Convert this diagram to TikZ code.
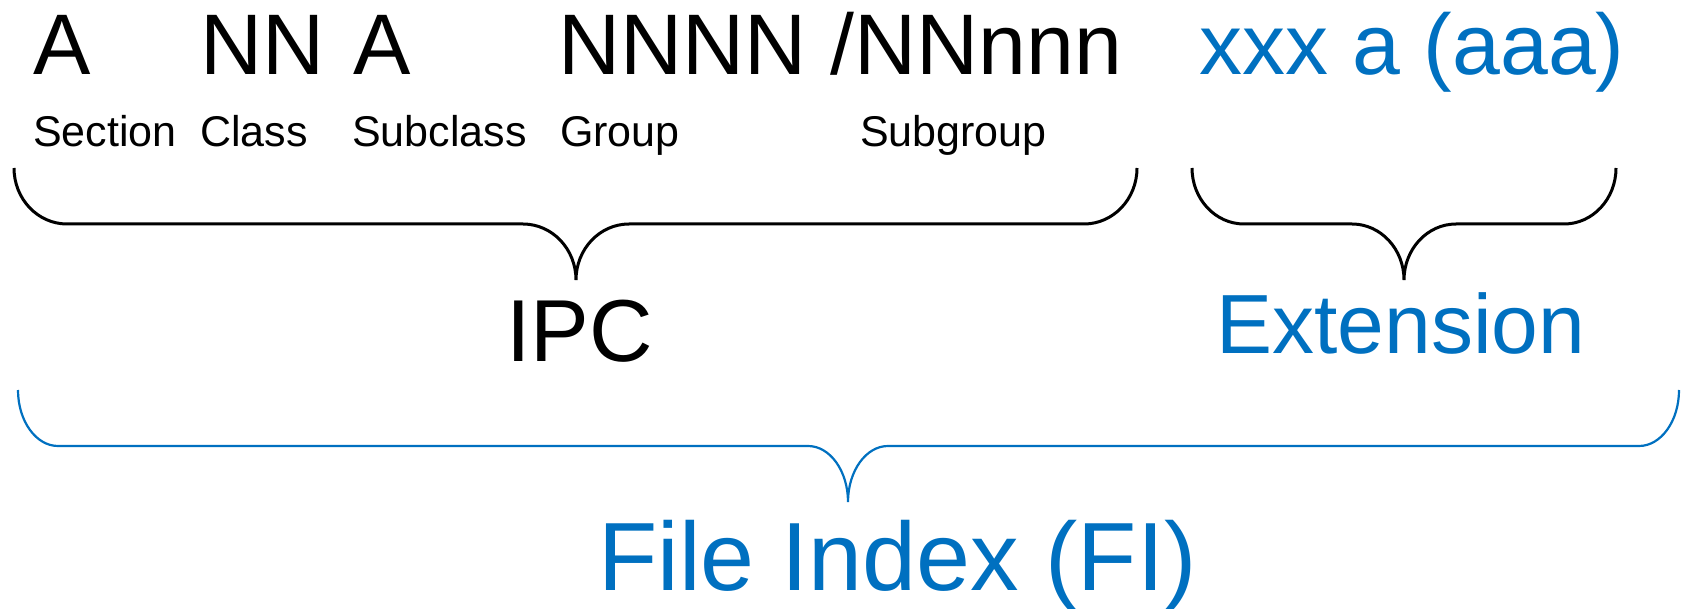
\documentclass[tikz,border=0pt]{standalone}
\usepackage{fontspec}
\setmainfont{Liberation Sans}
\usetikzlibrary{calc}

\definecolor{fiblue}{RGB}{0,112,192}

\tikzset{
  code/.style={anchor=base west, inner sep=0pt, font=\fontsize{86}{90}\selectfont},
  tag/.style={anchor=base west, inner sep=0pt, font=\fontsize{43}{47}\selectfont},
  bk/.style={draw=black, line width=3pt},
  bl/.style={draw=fiblue, line width=2.2pt},
}

\begin{document}
\begin{tikzpicture}[x=1pt,y=-1pt]
\useasboundingbox (0,0) rectangle (1683,609);
% the symbol parts and their names
\node[code] (sec) at (33,75) {A};
\node[code] (cls) at (200,75) {NN};
\node[code] (scl) at (353,75) {A};
\node[code] (grp) at (558,75) {NNNN /NNnnn};
\node[code, text=fiblue] (xtn) at (1199,75) {xxx a (aaa)};
\node[tag] (lsec) at (33,147) {Section};
\node[tag] (lcls) at (200,147) {Class};
\node[tag] (lscl) at (352,147) {Subclass};
\node[tag] (lgrp) at (560,147) {Group};
\node[tag] (lsgr) at (860,147) {Subgroup};
%% end points and tips of the braces
\coordinate (ipcL) at (14,168);
\coordinate (ipcR) at (1137,168);
\coordinate (ipcT) at (576,280);
\coordinate (extL) at (1192,168);
\coordinate (extR) at (1616,168);
\coordinate (extT) at (1404,280);
\coordinate (fiL) at (18,390);
\coordinate (fiR) at (1679,390);
\coordinate (fiT) at (848,502);
\draw[bk, x radius=53, y radius=56] (ipcL) arc[start angle=180, end angle=90]
  -- ($(ipcT)+(-53,-56)$) arc[start angle=270, end angle=360]
  arc[start angle=180, end angle=270]
  -- ($(ipcR)+(-53,56)$) arc[start angle=90, end angle=0]; % IPC
\draw[bk, x radius=52, y radius=56] (extL) arc[start angle=180, end angle=90]
  -- ($(extT)+(-52,-56)$) arc[start angle=270, end angle=360]
  arc[start angle=180, end angle=270]
  -- ($(extR)+(-52,56)$) arc[start angle=90, end angle=0]; % extension
\draw[bl, x radius=40, y radius=56] (fiL) arc[start angle=180, end angle=90]
  -- ($(fiT)+(-40,-56)$) arc[start angle=270, end angle=360]
  arc[start angle=180, end angle=270]
  -- ($(fiR)+(-40,56)$) arc[start angle=90, end angle=0]; % FI
%% what the braces stand for
\node[anchor=base west, inner sep=0pt, font=\fontsize{88}{92}\selectfont] (ipc) at (506,362) {IPC};
\node[anchor=base west, inner sep=0pt, text=fiblue, font=\fontsize{84}{88}\selectfont] (ext) at (1216,353) {Extension};
\node[anchor=base west, inner sep=0pt, text=fiblue, font=\fontsize{97}{100}\selectfont] (fi) at (598,590) {File Index (FI)};
\end{tikzpicture}
\end{document}
